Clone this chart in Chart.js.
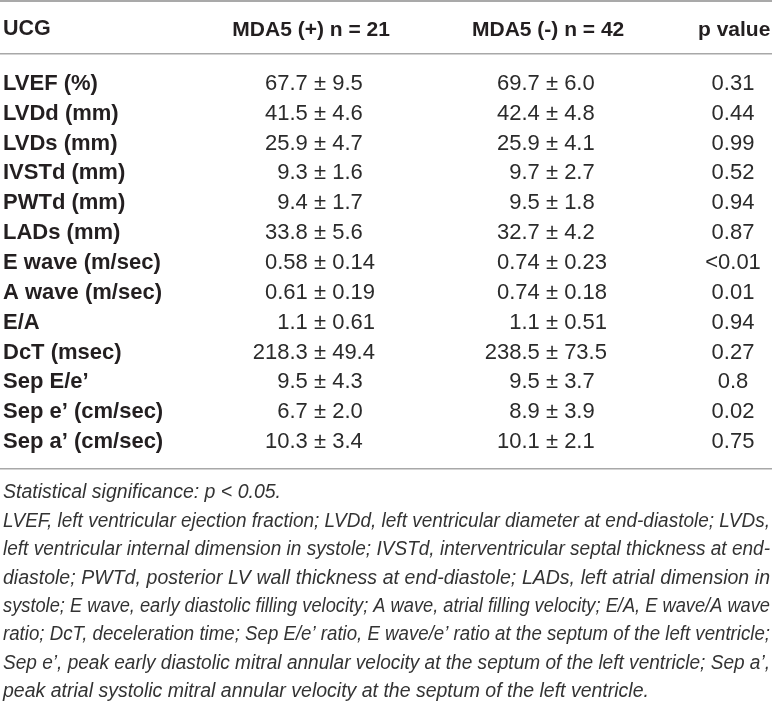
<!DOCTYPE html>
<html>
<head>
<meta charset="utf-8">
<title>UCG table</title>
<script src="https://cdn.jsdelivr.net/npm/chart.js@4.4.1/dist/chart.umd.min.js"></script>
<style>
    html, body { margin: 0; padding: 0; background: #fff; }
    #table-chart { display: block; }
</style>
</head>
<body>
<canvas id="table-chart" width="772" height="701"></canvas>
<script>
// 表データ
const stubHeader = 'UCG';
const colHeaders = ['MDA5 (+) n = 21', 'MDA5 (-) n = 42', 'p value'];
const rowLabels = ['LVEF (%)', 'LVDd (mm)', 'LVDs (mm)', 'IVSTd (mm)', 'PWTd (mm)', 'LADs (mm)',
    'E wave (m/sec)', 'A wave (m/sec)', 'E/A', 'DcT (msec)', 'Sep E/e\u2019', 'Sep e\u2019 (cm/sec)', 'Sep a\u2019 (cm/sec)'];
const posMean = ['67.7', '41.5', '25.9', '9.3', '9.4', '33.8', '0.58', '0.61', '1.1', '218.3', '9.5', '6.7', '10.3'];
const posSd = ['9.5', '4.6', '4.7', '1.6', '1.7', '5.6', '0.14', '0.19', '0.61', '49.4', '4.3', '2.0', '3.4'];
const negMean = ['69.7', '42.4', '25.9', '9.7', '9.5', '32.7', '0.74', '0.74', '1.1', '238.5', '9.5', '8.9', '10.1'];
const negSd = ['6.0', '4.8', '4.1', '2.7', '1.8', '4.2', '0.23', '0.18', '0.51', '73.5', '3.7', '3.9', '2.1'];
const pValues = ['0.31', '0.44', '0.99', '0.52', '0.94', '0.87', '<0.01', '0.01', '0.94', '0.27', '0.8', '0.02', '0.75'];

// 脚注 (行ごと)
const footnoteLines = [
    'Statistical significance: p < 0.05.',
    'LVEF, left ventricular ejection fraction; LVDd, left ventricular diameter at end-diastole; LVDs,',
    'left ventricular internal dimension in systole; IVSTd, interventricular septal thickness at end-',
    'diastole; PWTd, posterior LV wall thickness at end-diastole; LADs, left atrial dimension in',
    'systole; E wave, early diastolic filling velocity; A wave, atrial filling velocity; E/A, E wave/A wave',
    'ratio; DcT, deceleration time; Sep E/e\u2019 ratio, E wave/e\u2019 ratio at the septum of the left ventricle;',
    'Sep e\u2019, peak early diastolic mitral annular velocity at the septum of the left ventricle; Sep a\u2019,',
    'peak atrial systolic mitral annular velocity at the septum of the left ventricle.'
];
const justifiedLines = [false, true, true, true, true, true, true, false];

// レイアウト (横軸は表幅に対する割合)
const FONT = '"Liberation Sans", Arial, Helvetica, sans-serif';
const headerAnchors = [0.403, 0.710, 0.951];
const plusMinusAnchors = [0.4145, 0.715];
const pValueAnchor = 0.9495;

/**
 * 両端揃えで1行描画する
 */
function drawJustified(ctx, text, left, right, y, justify) {
    const words = text.split(' ');
    const avail = right - left;
    const space = ctx.measureText(' ').width;
    const wordsW = words.reduce((s, w) => s + ctx.measureText(w).width, 0);
    const natural = wordsW + space * (words.length - 1);
    const sx = natural > avail ? avail / natural : 1;
    const gap = (justify && natural <= avail) ? (avail - wordsW) / (words.length - 1) : space;
    ctx.save();
    ctx.translate(left, y);
    ctx.scale(sx, 1);
    let x = 0;
    words.forEach(w => {
        ctx.fillText(w, x, 0);
        x += ctx.measureText(w).width + gap;
    });
    ctx.restore();
}

// セル・罫線・脚注を描くプラグイン
const tablePlugin = {
    id: 'tableCells',
    afterDraw(chart) {
        const ctx = chart.ctx;
        const xs = chart.scales.x;
        const ys = chart.scales.y;
        const xb = chart.scales.x2;

        ctx.save();
        // 上罫線
        ctx.strokeStyle = '#8c8c8c';
        ctx.lineWidth = 1.5;
        ctx.beginPath();
        ctx.moveTo(xs.left, xs.top + 1);
        ctx.lineTo(xs.right, xs.top + 1);
        ctx.stroke();

        // 見出し UCG
        ctx.fillStyle = '#231f20';
        ctx.font = 'bold 21.5px ' + FONT;
        ctx.textAlign = 'left';
        ctx.textBaseline = 'middle';
        const headerY = xs.bottom - 25;
        ctx.fillText(stubHeader, chart.chartArea.left + 3, headerY);

        // 値セル
        ctx.font = '22px ' + FONT;
        ctx.fillStyle = '#2b2b2b';
        const half = ctx.measureText(' ').width + ctx.measureText('\u00b1').width / 2;
        const groups = [[posMean, posSd], [negMean, negSd]];
        rowLabels.forEach((_, i) => {
            const y = ys.getPixelForValue(i);
            groups.forEach((g, c) => {
                const px = xs.getPixelForValue(plusMinusAnchors[c]);
                ctx.textAlign = 'center';
                ctx.fillText('\u00b1', px, y);
                ctx.textAlign = 'right';
                ctx.fillText(g[0][i], px - half, y);
                ctx.textAlign = 'left';
                ctx.fillText(g[1][i], px + half, y);
            });
            ctx.textAlign = 'center';
            ctx.fillText(pValues[i], xs.getPixelForValue(pValueAnchor), y);
        });

        // 脚注
        ctx.font = 'italic 19.5px ' + FONT;
        ctx.fillStyle = '#333';
        ctx.textAlign = 'left';
        footnoteLines.forEach((line, k) => {
            const y = xb.top + 24 + k * 28.4;
            drawJustified(ctx, line, xb.left + 3, xb.right - 2, y, justifiedLines[k]);
        });
        ctx.restore();
    }
};

const canvas = document.getElementById('table-chart');
new Chart(canvas, {
    type: 'scatter',
    data: { datasets: [] },
    options: {
        responsive: false,
        animation: false,
        events: [],
        layout: { padding: 0 },
        plugins: {
            legend: { display: false },
            tooltip: { enabled: false }
        },
        scales: {
            x: {
                type: 'linear',
                position: 'top',
                min: 0,
                max: 1,
                grid: { display: false, drawTicks: false },
                border: { display: true, color: '#a8a8a8', width: 1.5 },
                afterFit(scale) {
                    scale.height = 54;
                    scale.paddingLeft = 0;
                    scale.paddingRight = 0;
                },
                afterBuildTicks(scale) {
                    scale.ticks = headerAnchors.map(v => ({ value: v }));
                },
                ticks: {
                    autoSkip: false,
                    maxRotation: 0,
                    padding: 11.5,
                    color: '#231f20',
                    font: { family: FONT, size: 21, weight: 'bold', lineHeight: 1.2 },
                    callback: (value, index) => colHeaders[index]
                }
            },
            x2: {
                type: 'linear',
                position: 'bottom',
                min: 0,
                max: 1,
                grid: { display: false, drawTicks: false },
                border: { display: true, color: '#a8a8a8', width: 1.5 },
                ticks: { display: false },
                afterFit(scale) {
                    scale.height = 232;
                    scale.paddingLeft = 0;
                    scale.paddingRight = 0;
                }
            },
            y: {
                type: 'linear',
                position: 'left',
                reverse: true,
                min: -1.0,
                max: 12.9,
                grid: { display: false, drawTicks: false },
                border: { display: false },
                afterFit(scale) { scale.width = 0; },
                afterBuildTicks(scale) {
                    scale.ticks = rowLabels.map((_, i) => ({ value: i }));
                },
                ticks: {
                    mirror: true,
                    padding: 3,
                    autoSkip: false,
                    color: '#231f20',
                    font: { family: FONT, size: 22, weight: 'bold', lineHeight: 1.2 },
                    callback: (value) => rowLabels[value]
                }
            }
        }
    },
    plugins: [tablePlugin]
});
</script>
</body>
</html>
